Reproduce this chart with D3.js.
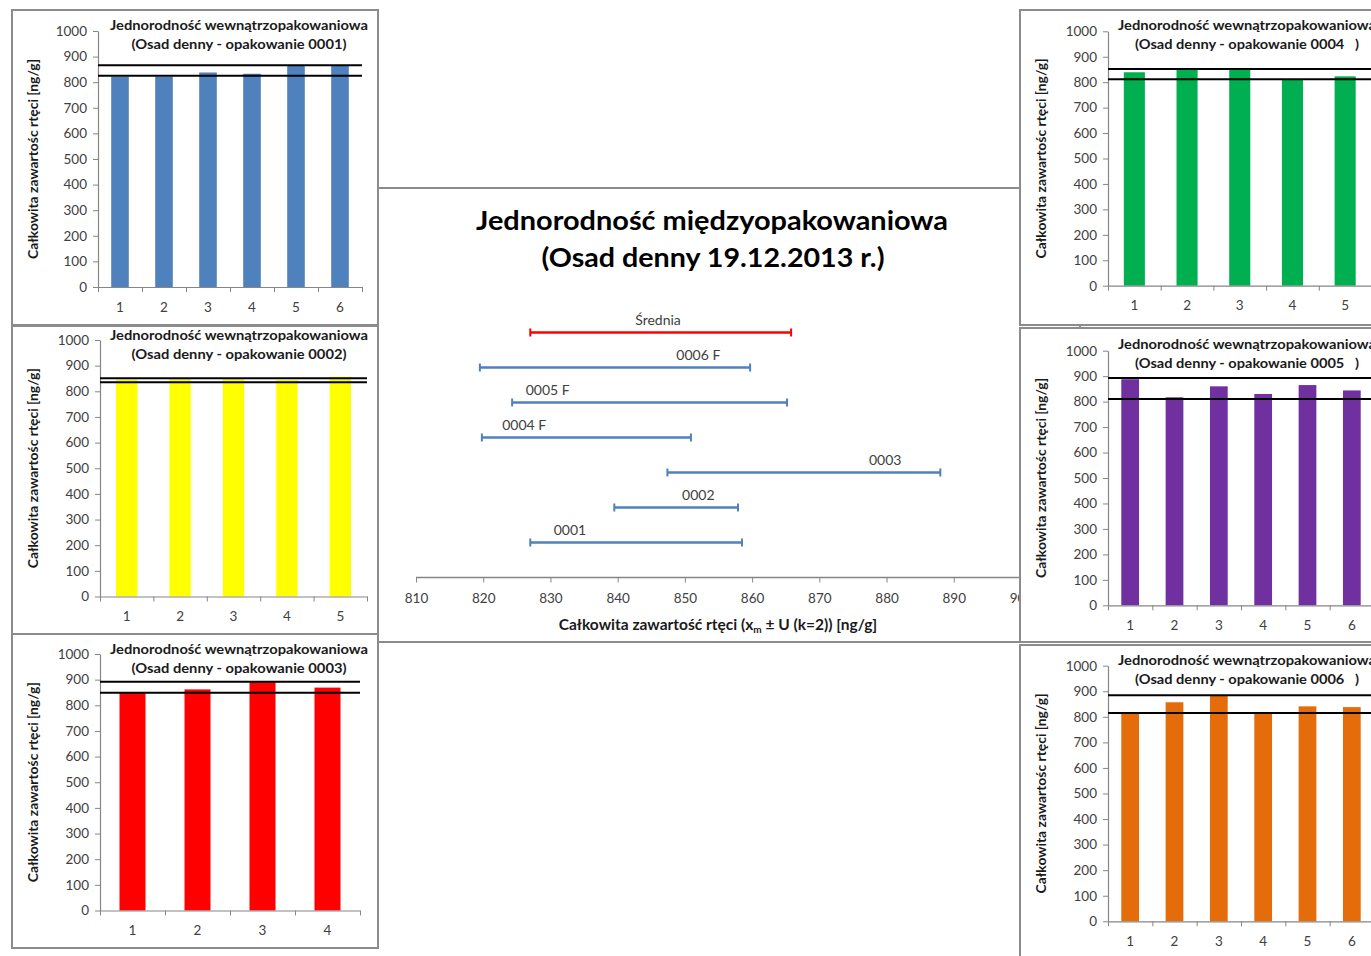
<!DOCTYPE html>
<html><head><meta charset="utf-8">
<script src="https://cdn.jsdelivr.net/npm/d3@7"></script>
<style>
body{margin:0;background:#fff;}
svg{display:block;}
text{font-family:Lato,"Open Sans",sans-serif;}
</style>
</head><body>
<svg id="c" width="1371" height="956"></svg>
<script>
// ---------- data ----------
const packageIds = ["0001","0002","0003","0004","0005","0006"];
const samples4 = ["1","2","3","4"];
const samples5 = ["1","2","3","4","5"];
const samples6 = ["1","2","3","4","5","6"];
const values0001 = [822, 822, 838, 833, 866, 866];
const values0002 = [846, 849, 849, 844, 857];
const values0003 = [851, 862, 892, 869];
const values0004 = [839, 855, 855, 812, 823];
const values0005 = [888, 817, 860, 830, 865, 844];
const values0006 = [815, 857, 884, 815, 841, 838];
const limits0001 = [825, 866];
const limits0002 = [835, 851];
const limits0003 = [849, 892];
const limits0004 = [812, 852];
const limits0005 = [810, 893];
const limits0006 = [815, 884];
const yTickValues = [0,100,200,300,400,500,600,700,800,900,1000];

const intervalNames = ["0001","0002","0003","0004 F","0005 F","0006 F","Średnia"];
const intervalLow  = [827.0, 839.5, 847.4, 819.8, 824.3, 819.5, 827.0];
const intervalHigh = [858.5, 857.9, 888.0, 850.9, 865.2, 859.7, 865.8];
const intervalLabelAt = [832.9, 852.0, 879.8, 826.1, 829.6, 852.0, 846.0];
const xTickValues = [810,820,830,840,850,860,870,880,890,900];

const mainTitle = ["Jednorodność międzyopakowaniowa", "(Osad denny 19.12.2013 r.)"];
const panelTitle = "Jednorodność wewnątrzopakowaniowa";
const yAxisTitle = "Całkowita zawartośc rtęci [ng/g]";

// ---------- helpers ----------
const svg = d3.select("#c");
const AXIS = "#868686", FRAME = "#8c8c8c", TXT = "#404040";
function fit(sel, w){ sel.attr("textLength", w).attr("lengthAdjust","spacingAndGlyphs"); return sel; }

// ---------- central chart ----------
const cg = svg.append("g");
cg.append("rect").attr("x",300).attr("y",188).attr("width",780).attr("height",454)
  .attr("fill","#fff").attr("stroke",FRAME).attr("stroke-width",2);

const cx = d3.scaleLinear().domain([810,900]).range([416,1021]);
const cy = d3.scaleLinear().domain([0,8]).range([577.5,297.5]);

fit(cg.append("text").attr("x",712).attr("y",230).attr("text-anchor","middle")
  .attr("font-size",27).attr("font-weight","bold").attr("fill","#000").text(mainTitle[0]),472);
fit(cg.append("text").attr("x",713).attr("y",267).attr("text-anchor","middle")
  .attr("font-size",27).attr("font-weight","bold").attr("fill","#000").text(mainTitle[1]),343);

const cax = cg.append("g").attr("transform",`translate(0,${cy(0)})`)
  .call(d3.axisBottom(cx).tickValues(xTickValues).tickSize(5).tickSizeOuter(0).tickPadding(11).tickFormat(d3.format("d")));
cax.select(".domain").attr("stroke",AXIS).attr("stroke-width",1.3).attr("d",`M${cx(810)},0H1100`);
cax.selectAll(".tick line").attr("stroke",AXIS);
cax.selectAll(".tick text").attr("font-size",13.5).attr("fill",TXT).attr("font-family","Lato,sans-serif");

const at = cg.append("text").attr("x",718).attr("y",630).attr("text-anchor","middle")
  .attr("font-size",15.5).attr("font-weight","bold").attr("fill","#1a1a1a");
at.append("tspan").text("Całkowita zawartość rtęci (x");
at.append("tspan").attr("font-size",10).attr("dy",3).text("m");
at.append("tspan").attr("dy",-3).text(" ± U (k=2)) [ng/g]");

const iv = cg.selectAll("g.iv").data(intervalNames).join("g").attr("class","iv");
iv.each(function(name,i){
  const g = d3.select(this);
  const col = name === "Średnia" ? "#FF0000" : "#4F81BD";
  const yy = cy(i+1);
  g.append("line").attr("x1",cx(intervalLow[i])).attr("x2",cx(intervalHigh[i]))
    .attr("y1",yy).attr("y2",yy).attr("stroke",col).attr("stroke-width",2.5);
  [intervalLow[i], intervalHigh[i]].forEach(v=>{
    g.append("line").attr("x1",cx(v)).attr("x2",cx(v)).attr("y1",yy-4).attr("y2",yy+4)
      .attr("stroke",col).attr("stroke-width",2);
  });
  g.append("text").attr("x",cx(intervalLabelAt[i])).attr("y",yy-8).attr("text-anchor","middle")
    .attr("font-size",14).attr("fill",TXT).text(name);
});

// ---------- small panels ----------
const panels = [
  {id:packageIds[0], vals:values0001, lim:limits0001, cats:samples6, color:"#4F81BD",
   frame:[12,10,366,315], x0:98, x1:362, y0:287, y1:31, tx:239, ty:25, suffix:")"},
  {id:packageIds[1], vals:values0002, lim:limits0002, cats:samples5, color:"#FFFF00",
   frame:[12,326,366,308], x0:100, x1:367, y0:596.5, y1:340, tx:239, ty:335, suffix:")"},
  {id:packageIds[2], vals:values0003, lim:limits0003, cats:samples4, color:"#FF0000",
   frame:[12,634,366,314], x0:100, x1:360, y0:910.5, y1:654, tx:239, ty:649, suffix:")"},
  {id:packageIds[3], vals:values0004, lim:limits0004, cats:samples5, color:"#00B050",
   frame:[1020,10,370,315], x0:1108, x1:1371.5, y0:285.7, y1:31.3, tx:1247, ty:25, suffix:"   )"},
  {id:packageIds[4], vals:values0005, lim:limits0005, cats:samples6, color:"#7030A0",
   frame:[1020,328,370,314], x0:1108, x1:1374, y0:605.3, y1:350.7, tx:1247, ty:344, suffix:"   )"},
  {id:packageIds[5], vals:values0006, lim:limits0006, cats:samples6, color:"#E46C0A",
   frame:[1020,645,370,320], x0:1108, x1:1374, y0:921.3, y1:665.7, tx:1247, ty:660, suffix:"   )"}
];

panels.forEach(p=>{
  const g = svg.append("g");
  const [fx,fy,fw,fh] = p.frame;
  g.append("rect").attr("x",fx).attr("y",fy).attr("width",fw).attr("height",fh)
    .attr("fill","#fff").attr("stroke",FRAME).attr("stroke-width",2);

  const y = d3.scaleLinear().domain([0,1000]).range([p.y0,p.y1]);
  const xb = d3.scaleBand().domain(p.cats).range([p.x0,p.x1]).paddingInner(0.6).paddingOuter(0.3);
  const xl = d3.scaleLinear().domain([0,p.cats.length]).range([p.x0,p.x1]);

  // bars
  g.selectAll("rect.bar").data(p.vals).join("rect").attr("class","bar")
    .attr("x",(d,i)=>xb(p.cats[i])).attr("width",xb.bandwidth())
    .attr("y",d=>y(d)).attr("height",d=>y(0)-y(d)).attr("fill",p.color);

  // y axis
  const ya = g.append("g").attr("transform",`translate(${p.x0},0)`)
    .call(d3.axisLeft(y).tickValues(yTickValues).tickSize(5).tickSizeOuter(0).tickPadding(6).tickFormat(d3.format("d")));
  ya.select(".domain").attr("stroke",AXIS).attr("stroke-width",1.2);
  ya.selectAll(".tick line").attr("stroke",AXIS);
  ya.selectAll(".tick text").attr("font-size",13.5).attr("fill",TXT).attr("font-family","Lato,sans-serif");

  // x axis: boundary ticks + labels
  const xa = g.append("g").attr("transform",`translate(0,${p.y0})`)
    .call(d3.axisBottom(xl).tickValues(d3.range(p.cats.length+1)).tickSize(5).tickSizeOuter(0).tickFormat(""));
  xa.select(".domain").attr("stroke",AXIS).attr("stroke-width",1.2);
  xa.selectAll(".tick line").attr("stroke",AXIS);
  const xa2 = g.append("g").attr("transform",`translate(0,${p.y0})`)
    .call(d3.axisBottom(xb).tickSize(0).tickPadding(15));
  xa2.select(".domain").remove();
  xa2.selectAll(".tick text").attr("font-size",13.5).attr("fill",TXT).attr("font-family","Lato,sans-serif");

  // limit lines
  g.selectAll("line.lim").data(p.lim).join("line").attr("class","lim")
    .attr("x1",p.x0).attr("x2",p.x1).attr("y1",d=>y(d)).attr("y2",d=>y(d))
    .attr("stroke","#000").attr("stroke-width",2);

  // titles
  fit(g.append("text").attr("x",p.tx).attr("y",p.ty+5).attr("text-anchor","middle")
    .attr("font-size",13.5).attr("font-weight","bold").attr("fill","#1a1a1a").text(panelTitle),258);
  const t2 = g.append("text").attr("x",p.tx).attr("y",p.ty+24).attr("text-anchor","middle")
    .attr("font-size",13.5).attr("font-weight","bold").attr("fill","#1a1a1a")
    .style("white-space","pre").text(`(Osad denny - opakowanie ${p.id}${p.suffix}`);
  fit(t2, p.suffix === ")" ? 215 : 224);

  // y axis title
  fit(g.append("text").attr("transform",`translate(${fx+26},${(p.y0+p.y1)/2}) rotate(-90)`)
    .attr("text-anchor","middle").attr("font-size",12.5).attr("font-weight","bold").attr("fill","#1a1a1a")
    .text(yAxisTitle),200);
});
</script>
</body></html>
